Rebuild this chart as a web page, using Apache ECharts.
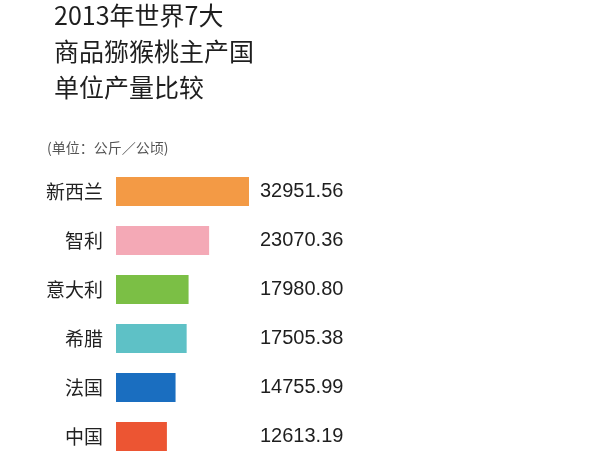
<!DOCTYPE html>
<html>
<head>
<meta charset="utf-8">
<script src="https://cdn.jsdelivr.net/npm/echarts@6/dist/echarts.min.js"></script>
<style>
  html, body { margin: 0; padding: 0; background: #fff; }
  #chart { width: 600px; height: 451px; }
</style>
</head>
<body>
<div id="chart"></div>
<script>
// 2013年世界7大商品猕猴桃主产国单位产量（公斤/公顷）
const countries = ['新西兰', '智利', '意大利', '希腊', '法国', '中国'];
const yields = [32951.56, 23070.36, 17980.80, 17505.38, 14755.99, 12613.19];
const barColors = ['#f39a45', '#f4a9b6', '#7bbf45', '#5ec1c6', '#1a6ec0', '#ec5533'];

const cjk = '"Noto Sans CJK SC", "Noto Sans", sans-serif';

const chart = echarts.init(document.getElementById('chart'));

chart.setOption({
  backgroundColor: '#fff',
  animation: false,
  title: [
    {
      text: '2013年世界7大\n商品猕猴桃主产国\n单位产量比较',
      left: 49,
      top: -8,
      textStyle: {
        fontFamily: cjk,
        fontSize: 25,
        fontWeight: 'normal',
        lineHeight: 36,
        color: '#1e1e1e'
      }
    },
    {
      text: '(单位：公斤／公顷)',
      left: 42,
      top: 136,
      textStyle: {
        fontFamily: cjk,
        fontSize: 14,
        fontWeight: 'normal',
        color: '#555'
      }
    }
  ],
  grid: {
    left: 116,
    top: 167,
    width: 133,
    height: 294,
    outerBoundsMode: 'none'
  },
  xAxis: {
    type: 'value',
    min: 0,
    max: 'dataMax',
    show: false
  },
  yAxis: [
    {
      type: 'category',
      data: countries,
      inverse: true,
      axisLine: { show: false },
      axisTick: { show: false },
      axisLabel: {
        margin: 13,
        fontFamily: cjk,
        fontSize: 19,
        color: '#222'
      }
    },
    {
      type: 'category',
      data: countries,
      inverse: true,
      position: 'right',
      axisLine: { show: false },
      axisTick: { show: false },
      axisLabel: {
        margin: 11,
        fontFamily: '"Liberation Sans", sans-serif',
        fontSize: 20,
        color: '#1e1e1e',
        formatter: (v, i) => yields[i].toFixed(2)
      }
    }
  ],
  series: [
    {
      type: 'bar',
      data: yields.map((v, i) => ({ value: v, itemStyle: { color: barColors[i] } })),
      barWidth: 29,
      silent: true
    }
  ]
});
</script>
</body>
</html>
